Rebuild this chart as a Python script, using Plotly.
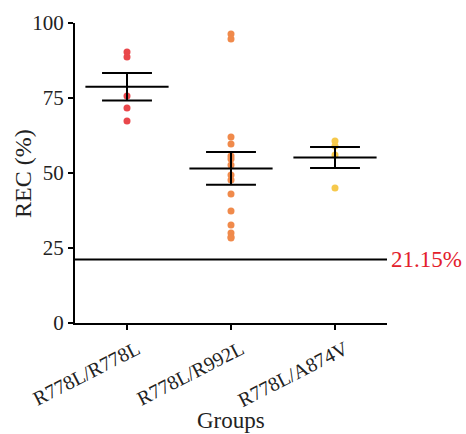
import numpy as np
import plotly.graph_objects as go

groups = ["R778L/R778L", "R778L/R992L", "R778L/A874V"]
g1 = [90.3, 88.7, 75.7, 71.7, 67.3]
g2 = [96.3, 94.7, 62.0, 59.7, 55.7, 54.7, 52.7, 49.3, 47.7, 43.0, 37.3, 32.7, 30.0, 28.7, 28.3]
g3 = [60.7, 59.0, 56.0, 45.0]
values = [g1, g2, g3]
colors = ["#e9474b", "#f08a4b", "#f6c94c"]
threshold = 21.15
yticks = [0, 25, 50, 75, 100]

FONT = "Liberation Serif"
fig = go.Figure()

for i, (vals, col) in enumerate(zip(values, colors)):
    fig.add_trace(go.Scatter(x=[i] * len(vals), y=vals, mode="markers",
                             marker=dict(color=col, size=7, line=dict(width=0)),
                             showlegend=False, hoverinfo="y"))

for i, vals in enumerate(values):
    a = np.array(vals)
    m = a.mean()
    sem = a.std(ddof=1) / np.sqrt(len(a))
    line = dict(color="black", width=2)
    fig.add_trace(go.Scatter(x=[i - 0.4, i + 0.4], y=[m, m], mode="lines", line=line,
                             showlegend=False, hoverinfo="skip"))
    for v in (m - sem, m + sem):
        fig.add_trace(go.Scatter(x=[i - 0.24, i + 0.24], y=[v, v], mode="lines", line=line,
                                 showlegend=False, hoverinfo="skip"))
    fig.add_trace(go.Scatter(x=[i, i], y=[m - sem, m + sem], mode="lines", line=line,
                             showlegend=False, hoverinfo="skip"))

fig.add_hline(y=threshold, line=dict(color="black", width=2))
fig.add_annotation(x=1, xref="paper", y=threshold, yref="y", text=f"{threshold:.2f}%",
                   showarrow=False, xanchor="left", xshift=2,
                   font=dict(family=FONT, size=23, color="#e3202b"))
fig.add_annotation(x=0.5, xref="paper", y=-0.275, yref="paper", text="Groups",
                   showarrow=False, xanchor="center", yanchor="top",
                   font=dict(family=FONT, size=23, color="#222"))
fig.add_annotation(x=-0.167, xref="paper", y=0.5, yref="paper", text="REC (%)",
                   showarrow=False, xanchor="center", yanchor="middle", textangle=-90,
                   font=dict(family=FONT, size=24, color="#222"))

fig.update_layout(
    width=466, height=434,
    margin=dict(l=75, r=79, t=23, b=111),
    paper_bgcolor="white", plot_bgcolor="white",
    font=dict(family=FONT, size=20, color="#222"),
    xaxis=dict(range=[-0.5, 2.5], tickvals=[0, 1, 2], ticktext=groups,
               tickangle=-27, showline=True, linecolor="black", linewidth=2,
               ticks="outside", ticklen=5, tickwidth=2, tickcolor="black",
               showgrid=False, zeroline=False, automargin=False,
               ticklabelshift=10,
               tickfont=dict(family=FONT, size=20)),
    yaxis=dict(range=[0, 100], tickvals=yticks, showline=True, linecolor="black", linewidth=2,
               ticks="outside", ticklen=5, tickwidth=2, tickcolor="black",
               showgrid=False, zeroline=False, automargin=False,
               tickfont=dict(family=FONT, size=21)),
)

fig.write_html("out.html", config={"displayModeBar": False},
               post_script="document.body.style.margin='0';document.body.style.overflow='hidden';")
